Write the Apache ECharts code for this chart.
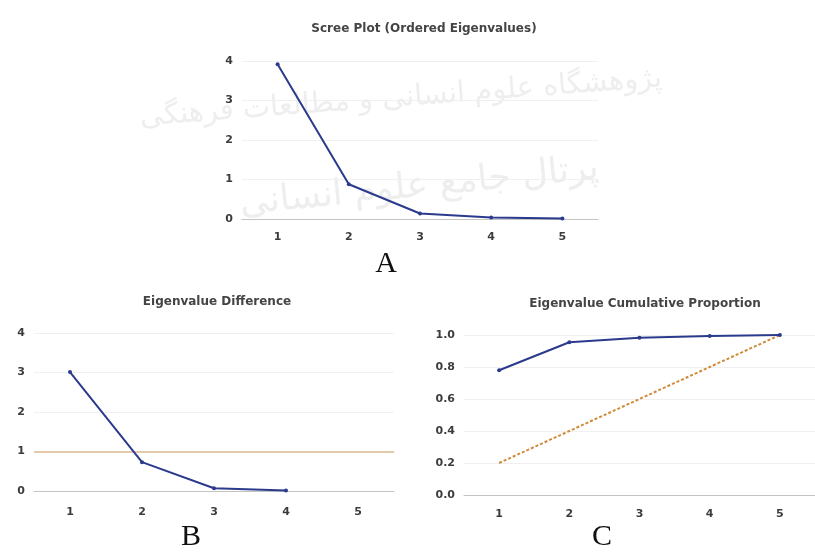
<!DOCTYPE html>
<html>
<head>
<meta charset="utf-8">
<script src="https://cdn.jsdelivr.net/npm/echarts@6/dist/echarts.min.js"></script>
<style>
  html, body { margin: 0; padding: 0; background: #ffffff; }
  #chart { width: 815px; height: 553px; }
</style>
</head>
<body>
<div id="chart"></div>
<script>
// Principal components 1..5
const components = ['1', '2', '3', '4', '5'];
// Ordered eigenvalues (scree plot)
const eigenvalues = [3.92, 0.88, 0.14, 0.04, 0.01];
// Difference between successive eigenvalues
const eigenDiff = [3.01, 0.73, 0.07, 0.01];
// Reference level in the difference panel
const diffReference = 1;
// Cumulative proportion of explained variance
const cumulative = [0.78, 0.955, 0.983, 0.993, 1.0];
// Equal-share reference line
const equalShare = [0.2, 0.4, 0.6, 0.8, 1.0];

const panelTitles = ['Scree Plot (Ordered Eigenvalues)', 'Eigenvalue Difference', 'Eigenvalue Cumulative Proportion'];
const panelLetters = ['A', 'B', 'C'];

const FONT = '"DejaVu Sans", "Liberation Sans", sans-serif';
const LINE_BLUE = '#2b3a8c';
const LABEL_COLOR = '#3c3c3c';

function catAxis(gridIndex, margin) {
  return {
    type: 'category', gridIndex, data: components, boundaryGap: true,
    axisLine: { lineStyle: { color: '#c4c4c4', width: 1 } },
    axisTick: { show: false },
    axisLabel: { color: LABEL_COLOR, fontFamily: FONT, fontSize: 11, fontWeight: 'bold', margin }
  };
}
function valAxis(gridIndex, min, max, interval, fmt) {
  return {
    type: 'value', gridIndex, min, max, interval,
    axisLine: { show: false }, axisTick: { show: false },
    splitLine: { show: true, lineStyle: { color: '#f0f0f0', width: 1 } },
    axisLabel: { color: LABEL_COLOR, fontFamily: FONT, fontSize: 11, fontWeight: 'bold', margin: 9, formatter: fmt }
  };
}
function blueLine(xi, yi, data) {
  return {
    type: 'line', xAxisIndex: xi, yAxisIndex: yi, data,
    symbol: 'circle', symbolSize: 4, showSymbol: true,
    lineStyle: { color: LINE_BLUE, width: 2 },
    itemStyle: { color: LINE_BLUE },
    animation: false, z: 5
  };
}

const chart = echarts.init(document.getElementById('chart'), null, { renderer: 'canvas' });

const option = {
  backgroundColor: '#ffffff',
  animation: false,
  title: [
    { text: panelTitles[0], left: 419, top: 18, textAlign: 'center' },
    { text: panelTitles[1], left: 212, top: 291, textAlign: 'center' },
    { text: panelTitles[2], left: 640, top: 293, textAlign: 'center' }
  ].map(t => Object.assign(t, {
    textStyle: { fontFamily: FONT, fontSize: 12, fontWeight: 'bold', color: '#444444' }
  })),
  grid: [
    { left: 242, top: 61, width: 356, height: 158 },
    { left: 34, top: 333, width: 360, height: 158 },
    { left: 464, top: 335, width: 356, height: 160 }
  ],
  xAxis: [catAxis(0, 13), catAxis(1, 16), catAxis(2, 14)],
  yAxis: [
    valAxis(0, 0, 4, 1),
    valAxis(1, 0, 4, 1),
    valAxis(2, 0, 1, 0.2, v => v.toFixed(1))
  ],
  series: [
    blueLine(0, 0, eigenvalues),
    Object.assign(blueLine(1, 1, eigenDiff), {
      markLine: {
        silent: true, symbol: 'none', label: { show: false },
        lineStyle: { color: '#dcb892', width: 1.5, type: 'solid' },
        data: [{ yAxis: diffReference }]
      }
    }),
    blueLine(2, 2, cumulative),
    {
      type: 'line', xAxisIndex: 2, yAxisIndex: 2, data: equalShare,
      symbol: 'none',
      lineStyle: { color: '#d08a3a', width: 2, type: [3, 2] },
      z: 4
    }
  ],
  graphic: [
    // faint background watermark text
    {
      type: 'text', x: 140, y: 118, rotation: 0.075, z: -10, silent: true,
      style: { text: 'پژوهشگاه علوم انسانی و مطالعات فرهنگی', fill: '#eeeeee',
               verticalAlign: 'middle', font: '29px "DejaVu Sans", sans-serif' }
    },
    {
      type: 'text', x: 240, y: 205, rotation: 0.1, z: -10, silent: true,
      style: { text: 'پرتال جامع علوم انسانی', fill: '#eeeeee',
               verticalAlign: 'middle', font: '36px "DejaVu Sans", sans-serif' }
    }
  ].concat([
    [386, 264], [191, 537], [602, 537]
  ].map((p, i) => ({
    type: 'text', x: p[0], y: p[1], silent: true,
    style: { text: panelLetters[i], fill: '#111111', align: 'center', verticalAlign: 'middle',
             font: '30px "Liberation Serif", "DejaVu Serif", serif' }
  })))
};

chart.setOption(option);
</script>
</body>
</html>
